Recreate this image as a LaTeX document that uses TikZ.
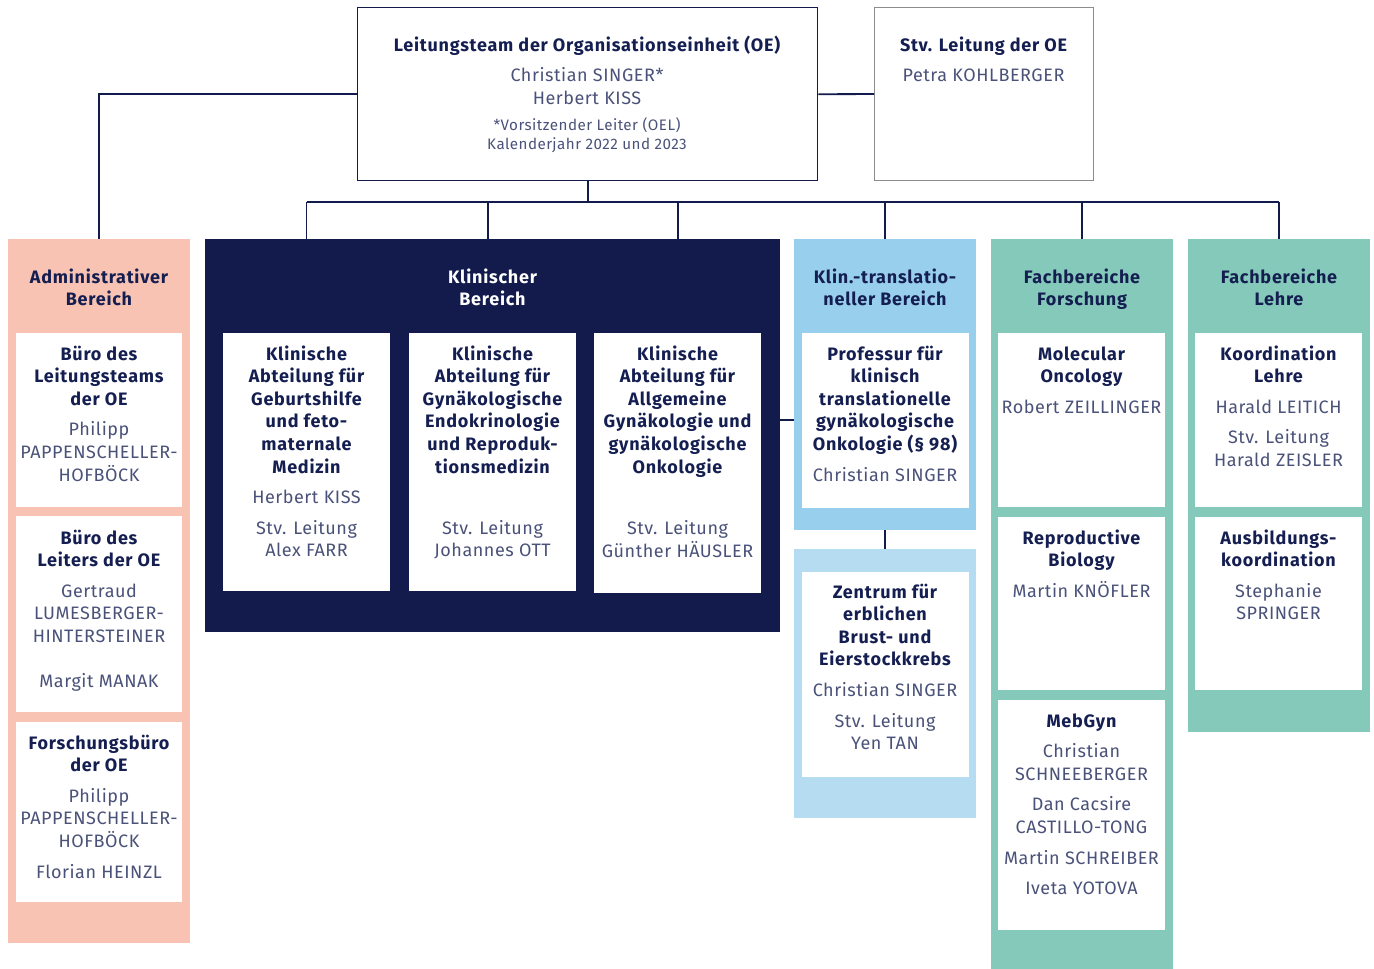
\documentclass[tikz,border=0pt]{standalone}
\usepackage{fontspec}
\setmainfont{Fira Sans}[LetterSpace=3, BoldFeatures={LetterSpace=4.2}]
\definecolor{navy}{HTML}{121B4B}
\definecolor{txt}{HTML}{141E50}
\definecolor{nm}{HTML}{4A5279}
\definecolor{salmon}{HTML}{F8C3B3}
\definecolor{lblue}{HTML}{98CFEC}
\definecolor{llblue}{HTML}{B5DCF1}
\definecolor{teal}{HTML}{84C9BA}
\definecolor{gry}{HTML}{8C8C8C}
\newcommand\B[1]{{\color{txt}\bfseries #1}}
\newcommand\W[1]{{\color{white}\bfseries #1}}
\newcommand\T[1]{\setlength\tabcolsep{0pt}\begin{tabular}[t]{c}#1\end{tabular}}
\tikzset{
  col/.style={draw=none, inner sep=0pt, anchor=north west, minimum width=182pt},
  wbox/.style={fill=white, draw=none, inner sep=0pt, anchor=north west, minimum width=167pt},
  tx/.style={inner sep=0pt, anchor=base, text=nm, font=\fontsize{18}{22.6}\selectfont},
  sm/.style={inner sep=0pt, anchor=base, text=nm, font=\fontsize{15.2}{19}\selectfont},
  conn/.style={draw=navy, line width=1.8pt},
}
\begin{document}
\begin{tikzpicture}[x=1pt,y=-1pt]
\useasboundingbox (0,0) rectangle (1374,969);
% top boxes
\node[draw=navy, line width=1.4pt, inner sep=0pt, anchor=north west, minimum width=460pt, minimum height=173pt] (lt) at (357,7) {};
\node[draw=gry, line width=1.1pt, inner sep=0pt, anchor=north west, minimum width=219pt, minimum height=173pt] (stv) at (874,7) {};
\node[tx] (ltt) at (587,51) {\T{\B{Leitungsteam der Organisationseinheit (OE)}\\[8pt]Christian SINGER*\\Herbert KISS}};
\node[sm] (lts) at (587,130) {\T{*Vorsitzender Leiter (OEL)\\Kalenderjahr 2022 und 2023}};
\node[tx] (stvt) at (983.5,51) {\T{\B{Stv. Leitung der OE}\\[8pt]Petra KOHLBERGER}};
% columns
\node[col, fill=salmon, minimum height=704pt] (adm) at (8,239) {};
\node[col, fill=navy, minimum width=575pt, minimum height=393pt] (clin) at (205,239) {};
\node[col, fill=lblue, minimum height=291pt] (tr1) at (794,239) {};
\node[col, fill=llblue, minimum height=269pt] (tr2) at (794,549) {};
\node[col, fill=teal, minimum height=730pt] (fo) at (991,239) {};
\node[col, fill=teal, minimum height=493pt] (le) at (1188,239) {};
% white boxes
\node[wbox, minimum width=166pt, minimum height=174pt] (a1) at (16,333) {};
\node[wbox, minimum width=166pt, minimum height=196pt] (a2) at (16,516) {};
\node[wbox, minimum width=166pt, minimum height=180pt] (a3) at (16,722) {};
\node[wbox, minimum height=258pt] (kA) at (223,333) {};
\node[wbox, minimum height=258pt] (kB) at (409,333) {};
\node[wbox, minimum height=260pt] (kC) at (594,333) {};
\node[wbox, minimum height=175pt] (t1) at (802,333) {};
\node[wbox, minimum height=205pt] (t2) at (802,572) {};
\node[wbox, minimum height=174pt] (f1) at (998,333) {};
\node[wbox, minimum height=173pt] (f2) at (998,517) {};
\node[wbox, minimum height=230pt] (f3) at (998,700) {};
\node[wbox, minimum height=174pt] (l1) at (1195,333) {};
\node[wbox, minimum height=173pt] (l2) at (1195,517) {};
% connectors
\coordinate (busL) at (306.5,202);
\coordinate (busR) at (1279,202);
\coordinate (busB) at (488,202);
\coordinate (cj) at (780,420);
\draw[conn] (busL) -- (busR);
\draw[conn] (lt.south) -- (lt.south |- busL);
\draw[conn] (busL) -- (busL |- clin.north);
\draw[conn] (busB) -- (busB |- clin.north);
\draw[conn] (kC.north |- busL) -- (kC.north |- clin.north);
\draw[conn] (tr1.north |- busL) -- (tr1.north);
\draw[conn] (fo.north |- busL) -- (fo.north);
\draw[conn] (le.north |- busL) -- (le.north);
\draw[conn] (lt.west) -| (adm.north);
\draw[conn] (lt.east) -- (stv.west);
\draw[conn] (tr1.south) -- (tr2.north);
\draw[conn] (cj) -- (cj -| tr1.west);
% headers
\node[tx] (hadm) at (99,283) {\T{\B{Administrativer}\\\B{Bereich}}};
\node[tx] (hclin) at (492.5,283) {\T{\W{Klinischer}\\\W{Bereich}}};
\node[tx] (htr) at (885,283) {\T{\B{Klin.-translatio-}\\\B{neller Bereich}}};
\node[tx] (hfo) at (1082,283) {\T{\B{Fachbereiche}\\\B{Forschung}}};
\node[tx] (hle) at (1279,283) {\T{\B{Fachbereiche}\\\B{Lehre}}};
% texts
\node[tx] (ta1) at (99,360) {\T{\B{Büro des}\\\B{Leitungsteams}\\\B{der OE}\\[8pt]Philipp\\PAPPENSCHELLER-\\HOFBÖCK}};
\node[tx] (ta2) at (99,544) {\T{\B{Büro des}\\\B{Leiters der OE}\\[8pt]Gertraud\\LUMESBERGER-\\HINTERSTEINER\\\\Margit MANAK}};
\node[tx] (ta3) at (99,749) {\T{\B{Forschungsbüro}\\\B{der OE}\\[8pt]Philipp\\PAPPENSCHELLER-\\HOFBÖCK\\[8pt]Florian HEINZL}};
\node[tx] (tkA) at (306.5,360) {\T{\B{Klinische}\\\B{Abteilung für}\\\B{Geburtshilfe}\\\B{und feto-}\\\B{maternale}\\\B{Medizin}\\[8pt]Herbert KISS\\[8pt]Stv. Leitung\\Alex FARR}};
\node[tx] (tkB) at (492.5,360) {\T{\B{Klinische}\\\B{Abteilung für}\\\B{Gynäkologische}\\\B{Endokrinologie}\\\B{und Reproduk-}\\\B{tionsmedizin}\\[8pt]\\[8pt]Stv. Leitung\\Johannes OTT}};
\node[tx] (tkC) at (677.5,360) {\T{\B{Klinische}\\\B{Abteilung für}\\\B{Allgemeine}\\\B{Gynäkologie und}\\\B{gynäkologische}\\\B{Onkologie}\\[8pt]\\[8pt]Stv. Leitung\\Günther HÄUSLER}};
\node[tx] (tt1) at (885,360) {\T{\B{Professur für}\\\B{klinisch}\\\B{translationelle}\\\B{gynäkologische}\\\B{Onkologie (§ 98)}\\[8pt]Christian SINGER}};
\node[tx] (tt2) at (885,598) {\T{\B{Zentrum für}\\\B{erblichen}\\\B{Brust- und}\\\B{Eierstockkrebs}\\[8pt]Christian SINGER\\[8pt]Stv. Leitung\\Yen TAN}};
\node[tx] (tf1) at (1081.5,360) {\T{\B{Molecular}\\\B{Oncology}\\[8pt]Robert ZEILLINGER}};
\node[tx] (tf2) at (1081.5,544) {\T{\B{Reproductive}\\\B{Biology}\\[8pt]Martin KNÖFLER}};
\node[tx] (tf3) at (1081.5,727) {\T{\B{MebGyn}\\[8pt]Christian\\SCHNEEBERGER\\[8pt]Dan Cacsire\\CASTILLO-TONG\\[8pt]Martin SCHREIBER\\[8pt]Iveta YOTOVA}};
\node[tx] (tl1) at (1278.5,360) {\T{\B{Koordination}\\\B{Lehre}\\[8pt]Harald LEITICH\\[8pt]Stv. Leitung\\Harald ZEISLER}};
\node[tx] (tl2) at (1278.5,544) {\T{\B{Ausbildungs-}\\\B{koordination}\\[8pt]Stephanie\\SPRINGER}};
\end{tikzpicture}
\end{document}
